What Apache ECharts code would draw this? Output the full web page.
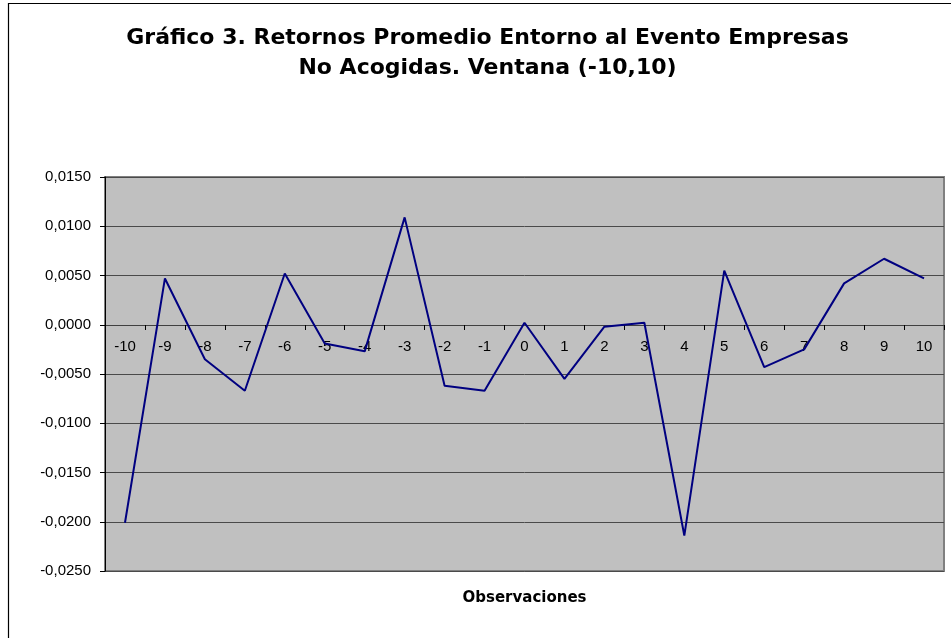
<!DOCTYPE html>
<html>
<head>
<meta charset="utf-8">
<script src="https://cdn.jsdelivr.net/npm/echarts@6/dist/echarts.min.js"></script>
<style>html,body{margin:0;padding:0;background:#fff}#c{width:951px;height:638px}</style>
</head>
<body>
<div id="c"></div>
<script>
const categories = ['-10','-9','-8','-7','-6','-5','-4','-3','-2','-1','0','1','2','3','4','5','6','7','8','9','10'];
const retornos = [-0.0201, 0.0047, -0.0035, -0.0067, 0.0052, -0.0019, -0.0027, 0.0109, -0.0062, -0.0067, 0.0002, -0.0055, -0.0002, 0.0002, -0.0214, 0.0055, -0.0043, -0.0025, 0.0042, 0.0067, 0.0047];
const titleText = 'Gráfico 3. Retornos Promedio Entorno al Evento Empresas\nNo Acogidas. Ventana (-10,10)';
const xAxisTitle = 'Observaciones';

const chart = echarts.init(document.getElementById('c'), null, {renderer: 'canvas'});
chart.setOption({
  animation: false,
  backgroundColor: '#ffffff',
  title: {
    text: titleText,
    left: 487.5,
    top: 23,
    padding: 0,
    textAlign: 'center',
    textStyle: {
      fontFamily: '"DejaVu Sans", sans-serif',
      fontSize: 22,
      fontWeight: 'bold',
      color: '#000',
      lineHeight: 30
    }
  },
  graphic: [
    {
      type: 'rect',
      silent: true,
      shape: {x: 8.5, y: 3.5, width: 1000, height: 1000},
      style: {fill: 'none', stroke: '#000', lineWidth: 1.2}
    },
    {
      type: 'text',
      silent: true,
      x: 524.5,
      y: 598,
      style: {
        text: xAxisTitle,
        align: 'center',
        verticalAlign: 'middle',
        font: 'bold 15px "DejaVu Sans", sans-serif',
        fill: '#000'
      }
    }
  ],
  grid: {
    left: 105,
    top: 177,
    right: 7,
    bottom: 67,
    show: true,
    backgroundColor: '#C0C0C0',
    borderColor: '#808080',
    borderWidth: 2,
    containLabel: false
  },
  xAxis: {
    type: 'category',
    data: categories,
    boundaryGap: true,
    position: 'bottom',
    offset: -246,
    axisLine: {onZero: false, lineStyle: {color: '#404040', width: 1}},
    axisTick: {show: true, length: 5, inside: false, alignWithLabel: false, interval: 0, lineStyle: {color: '#000'}},
    axisLabel: {
      interval: 0,
      margin: 14,
      fontFamily: 'Liberation Sans, Arial, sans-serif',
      fontSize: 15,
      color: '#000'
    },
    splitLine: {show: false}
  },
  yAxis: {
    type: 'value',
    min: -0.025,
    max: 0.015,
    interval: 0.005,
    axisLine: {show: true, lineStyle: {color: '#000', width: 1}},
    axisTick: {show: true, length: 5, lineStyle: {color: '#000'}},
    axisLabel: {
      margin: 14,
      fontFamily: 'Liberation Sans, Arial, sans-serif',
      fontSize: 15,
      color: '#000',
      formatter: function (v) {
        let s = (Math.abs(v) < 1e-12 ? 0 : v).toFixed(4);
        return s.replace('.', ',');
      }
    },
    splitLine: {show: true, lineStyle: {color: '#4a4a4a', width: 1}}
  },
  series: [{
    type: 'line',
    data: retornos,
    showSymbol: false,
    symbol: 'none',
    smooth: false,
    lineStyle: {color: '#000080', width: 2},
    itemStyle: {color: '#000080'}
  }]
});
</script>
</body>
</html>
